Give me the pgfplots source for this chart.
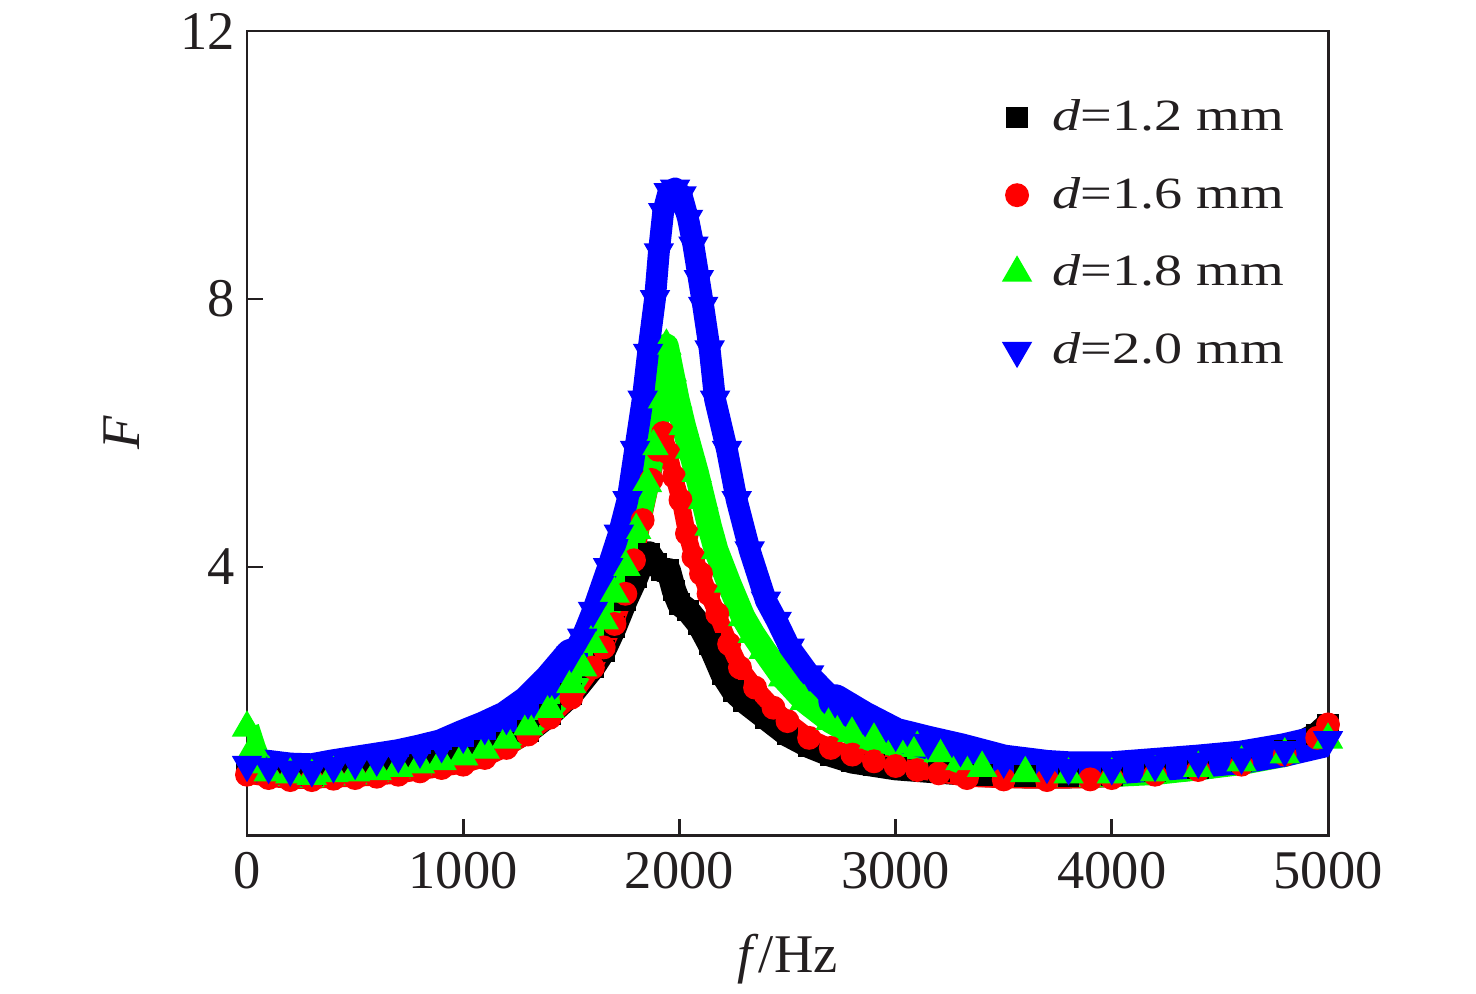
\documentclass[border=0pt]{standalone}
\usepackage{fontspec}
\setmainfont{Liberation Serif}
\newfontfamily\legfont[FakeStretch=1.26]{Liberation Serif}
\usepackage{pgfplots}
\pgfplotsset{compat=1.18}
\usepackage{pgfplotstable}
\definecolor{axcol}{HTML}{231F20}
\definecolor{cR}{HTML}{FF0000}
\definecolor{cG}{HTML}{00FF00}
\definecolor{cB}{HTML}{0000FF}

\pgfplotstableread{
f F
0 1.0
100 0.95
200 0.92
300 0.9
400 0.92
500 0.95
600 0.97
700 1.0
800 1.05
900 1.1
1000 1.15
1100 1.25
1200 1.38
1300 1.55
1400 1.8
1500 2.1
1600 2.5
1650 2.75
1700 3.1
1750 3.5
1800 3.85
1830 4.1
1860 4.2
1890 4.05
1920 3.95
1950 3.95
1975 3.65
2000 3.45
2040 3.35
2090 3.15
2140 2.85
2200 2.4
2250 2.15
2300 2.0
2400 1.75
2500 1.5
2600 1.33
2700 1.2
2800 1.1
2900 1.05
3000 1.0
3200 0.95
3400 0.9
3600 0.88
3800 0.88
4000 0.9
4200 0.95
4400 1.0
4600 1.1
4800 1.25
4950 1.5
5000 1.65
}\dataA

\pgfplotstableread{
f F
0 0.9
100 0.85
200 0.82
300 0.82
400 0.84
500 0.85
600 0.87
700 0.9
800 0.95
900 1.0
1000 1.05
1100 1.15
1200 1.3
1300 1.5
1400 1.75
1500 2.05
1600 2.5
1650 2.8
1700 3.15
1750 3.6
1790 4.1
1830 4.7
1870 5.3
1900 5.75
1925 6.0
1950 5.7
1975 5.35
2005 5.0
2035 4.5
2065 4.15
2100 3.9
2135 3.6
2175 3.3
2230 2.85
2280 2.5
2350 2.2
2435 1.9
2500 1.7
2600 1.45
2700 1.3
2800 1.2
2900 1.1
3000 1.03
3100 0.97
3200 0.92
3330 0.85
3500 0.83
3700 0.82
3900 0.83
4000 0.85
4200 0.9
4400 0.97
4600 1.05
4800 1.2
4950 1.45
5000 1.65
}\dataB

\pgfplotstableread{
f F
0 1.6
30 1.3
60 1.05
100 0.93
200 0.9
300 0.88
400 0.92
500 0.93
600 0.95
700 1.0
800 1.05
900 1.1
1000 1.17
1100 1.27
1200 1.42
1300 1.62
1400 1.88
1500 2.25
1550 2.5
1600 2.85
1650 3.2
1700 3.6
1750 4.0
1800 4.55
1850 5.25
1880 5.8
1910 6.5
1940 7.3
1965 6.9
1990 6.5
2020 6.1
2050 5.75
2080 5.4
2110 5.0
2140 4.6
2170 4.25
2230 3.75
2295 3.25
2340 3.0
2390 2.76
2480 2.35
2580 2.0
2700 1.7
2800 1.52
2900 1.42
3000 1.35
3100 1.3
3200 1.22
3300 1.1
3400 1.0
3600 0.92
3800 0.9
4000 0.9
4200 0.93
4400 1.0
4600 1.08
4800 1.2
5000 1.42
}\dataC

% d = 2.0 mm : low-frequency part, peak part, high-frequency part
\pgfplotstableread{
f F
0 1.05
100 1.02
200 0.98
300 0.97
400 1.03
500 1.08
600 1.13
700 1.18
800 1.25
900 1.33
1000 1.47
1100 1.6
1200 1.75
1300 1.98
1400 2.3
1500 2.68
}\dataDa

\pgfplotstableread{
f F
1400 2.3
1500 2.68
1550 2.95
1600 3.35
1670 4.0
1720 4.5
1760 5.0
1795 5.75
1830 6.5
1855 7.2
1887 8.0
1905 8.7
1925 9.3
1950 9.6
1980 9.65
2010 9.55
2040 9.2
2065 8.8
2090 8.3
2110 7.9
2140 7.25
2165 6.5
2220 5.75
2265 5.0
2325 4.25
2400 3.5
2450 3.2
2510 2.8
2600 2.4
2720 2.0
2850 1.75
}\dataDb

\pgfplotstableread{
f F
2720 2.0
2850 1.75
3000 1.5
3150 1.38
3300 1.27
3500 1.1
3700 1.02
3800 1.0
4000 1.0
4200 1.05
4400 1.1
4600 1.16
4800 1.27
5000 1.42
}\dataDc

\pgfplotstableread{
f F
0 1.05
100 1.02
200 0.98
300 0.97
400 1.03
500 1.08
600 1.13
700 1.18
800 1.25
900 1.33
1000 1.47
1100 1.6
1200 1.75
1300 1.98
1400 2.3
1500 2.68
1550 2.95
1600 3.35
1670 4.0
1720 4.5
1760 5.0
1795 5.75
1830 6.5
1855 7.2
1887 8.0
1905 8.7
1925 9.3
1950 9.6
1980 9.65
2010 9.55
2040 9.2
2065 8.8
2090 8.3
2110 7.9
2140 7.25
2165 6.5
2220 5.75
2265 5.0
2325 4.25
2400 3.5
2450 3.2
2510 2.8
2600 2.4
2720 2.0
2850 1.75
3000 1.5
3150 1.38
3300 1.27
3500 1.1
3700 1.02
3800 1.0
4000 1.0
4200 1.05
4400 1.1
4600 1.16
4800 1.27
5000 1.42
}\dataD

\begin{document}
\begin{tikzpicture}
\begin{axis}[
  scale only axis, width=108.1mm, height=80.4mm,
  xmin=0, xmax=5000, ymin=0, ymax=12,
  xtick={0,1000,...,5000}, ytick={4,8,12},
  scaled x ticks=false,
  tick align=inside, tick pos=left,
  major tick length=4.5pt,
  axis line style={line width=0.85pt, color=axcol},
  every tick/.style={line width=0.85pt, color=axcol},
  /pgf/number format/assume math mode=true,
  /pgf/number format/set thousands separator={},
  ticklabel style={font=\fontsize{15.5}{18}\selectfont, color=axcol},
  xticklabel style={yshift=-1.4pt},
  xlabel={\textit{f}/Hz}, ylabel={\textit{F}},
  label style={font=\fontsize{15.5}{18}\selectfont, color=axcol},
  xlabel style={at={(axis description cs:0.5,-0.1716)}, anchor=base},
  ylabel style={at={(axis description cs:-0.1156,0.5)}, anchor=center},
  legend image code/.code={\draw[#1] plot coordinates {(0pt,0pt)};},
  legend cell align=left,
  legend style={draw=none, fill=none, at={(axis cs:3497,10.98)}, anchor=north west,
    inner sep=0pt, outer sep=0pt, row sep=11.8pt, column sep=6pt,
    font=\legfont\fontsize{12.7}{15}\selectfont, text=axcol,
    nodes={inner sep=0pt}},
]
\addplot[black, line width=7pt, line join=round, forget plot] table[x=f,y=F] {\dataA};
\addplot[black, only marks, mark=square*, mark size=2.9pt, line width=0.4pt] table[x=f,y=F] {\dataA};
\addlegendentry{\textit{d}=1.2 mm}
\addplot[cR, line width=5pt, line join=round, forget plot] table[x=f,y=F] {\dataB};
\addplot[cR, only marks, mark=*, mark size=3.2pt, line width=0.4pt] table[x=f,y=F] {\dataB};
\addlegendentry{\textit{d}=1.6 mm}
\addplot[cG, line width=7pt, line join=round, forget plot] table[x=f,y=F] {\dataC};
\addplot[cG, only marks, mark=triangle*, mark size=4.6pt, line width=0.4pt] table[x=f,y=F] {\dataC};
\addlegendentry{\textit{d}=1.8 mm}
\addplot[cB, line width=9.5pt, line join=round, line cap=round, forget plot] table[x=f,y=F] {\dataDa};
\addplot[cB, line width=6.2pt, line join=round, line cap=round, forget plot] table[x=f,y=F] {\dataDb};
\addplot[cB, line width=9.5pt, line join=round, line cap=round, forget plot] table[x=f,y=F] {\dataDc};
\addplot[cB, only marks, mark=triangle*, mark size=4.6pt, mark options={rotate=180}, line width=0.4pt] table[x=f,y=F] {\dataD};
\addlegendentry{\textit{d}=2.0 mm}
\end{axis}
\pgfresetboundingbox
\useasboundingbox ([shift={(-24.7mm,-15.8mm)}]current axis.south west) rectangle ([shift={(14.8mm,3.1mm)}]current axis.north east);
\end{tikzpicture}
\end{document}
